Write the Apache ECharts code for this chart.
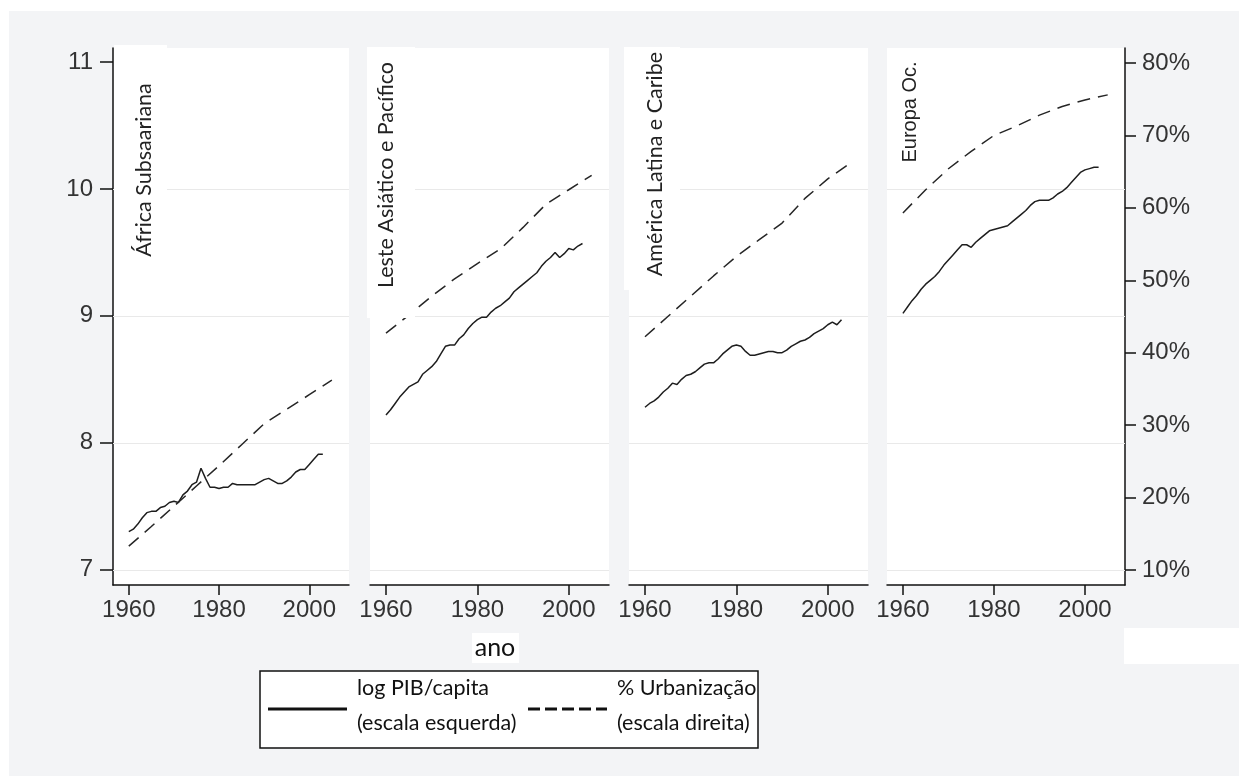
<!DOCTYPE html>
<html>

<head>
    <meta charset="utf-8">
    <title>PIB e urbanização</title>
    <script src="https://cdn.jsdelivr.net/npm/echarts@6/dist/echarts.min.js"></script>
</head>

<body style="margin:0;background:#fff;">
    <div id="main" style="width: 1239px;height:776px;"></div>
    <script type="text/javascript">
    // regiões (painéis)
    var regions = ['África Subsaariana', 'Leste Asiático e Pacífico', 'América Latina e Caribe', 'Europa Oc.'];

    // anos
    var gdpYears = [];
    for (var y = 1960; y <= 2003; y++) gdpYears.push(y);
    var urbYears = [1960, 1965, 1970, 1975, 1980, 1985, 1990, 1995, 2000, 2005];

    // log PIB/capita (escala esquerda), 1960-2003
    var gdpAfrica = [7.30, 7.32, 7.36, 7.41, 7.45, 7.46, 7.46, 7.49, 7.50, 7.53, 7.54, 7.53, 7.59, 7.62, 7.67,
        7.69, 7.80, 7.72, 7.65, 7.65, 7.64, 7.65, 7.65, 7.68, 7.67, 7.67, 7.67, 7.67, 7.67, 7.69, 7.71, 7.72,
        7.70, 7.68, 7.68, 7.70, 7.73, 7.77, 7.79, 7.79, 7.83, 7.87, 7.91, 7.91];
    var gdpAsia = [8.22, 8.26, 8.31, 8.36, 8.40, 8.44, 8.46, 8.48, 8.54, 8.57, 8.60, 8.64, 8.70, 8.76, 8.77,
        8.77, 8.82, 8.85, 8.90, 8.94, 8.97, 8.99, 8.99, 9.03, 9.06, 9.08, 9.11, 9.14, 9.19, 9.22, 9.25, 9.28,
        9.31, 9.34, 9.39, 9.43, 9.46, 9.50, 9.46, 9.49, 9.53, 9.52, 9.55, 9.57];
    var gdpLatam = [8.28, 8.31, 8.33, 8.36, 8.40, 8.43, 8.47, 8.46, 8.50, 8.53, 8.54, 8.56, 8.59, 8.62, 8.63,
        8.63, 8.66, 8.70, 8.73, 8.76, 8.77, 8.76, 8.72, 8.69, 8.69, 8.70, 8.71, 8.72, 8.72, 8.71, 8.71, 8.73,
        8.76, 8.78, 8.80, 8.81, 8.83, 8.86, 8.88, 8.90, 8.93, 8.95, 8.93, 8.97];
    var gdpEurope = [9.02, 9.07, 9.12, 9.16, 9.21, 9.25, 9.28, 9.31, 9.35, 9.40, 9.44, 9.48, 9.52, 9.56, 9.56,
        9.54, 9.58, 9.61, 9.64, 9.67, 9.68, 9.69, 9.70, 9.71, 9.74, 9.77, 9.80, 9.83, 9.87, 9.90, 9.91, 9.91,
        9.91, 9.93, 9.96, 9.98, 10.01, 10.05, 10.09, 10.13, 10.15, 10.16, 10.17, 10.17];

    // % urbanização (escala direita)
    var urbAfrica = [13.3, 16.0, 18.8, 21.6, 24.4, 27.3, 30.2, 32.2, 34.2, 36.2];
    var urbAsia = [42.7, 45.2, 47.8, 50.2, 52.3, 54.3, 57.3, 60.5, 62.5, 64.5];
    var urbLatam = [42.2, 45.0, 47.8, 50.6, 53.3, 55.6, 57.9, 61.3, 64.0, 66.2];
    var urbEurope = [59.3, 62.5, 65.4, 67.8, 70.0, 71.3, 72.8, 74.0, 74.9, 75.6];

    var gdpData = [gdpAfrica, gdpAsia, gdpLatam, gdpEurope];
    var urbData = [urbAfrica, urbAsia, urbLatam, urbEurope];

    var leftTicks = [7, 8, 9, 10, 11];
    var rightTicks = [10, 20, 30, 40, 50, 60, 70, 80];
    var yearTicks = [1960, 1980, 2000];

    var myChart = echarts.init(document.getElementById('main'));

    var panelLeft = [113, 370, 629, 887];
    var panelWidth = [236, 239, 239, 238];
    var labelFont = ['Lato', 'Lato', 'Lato', 'Liberation Sans'];
    var labelSize = [21.5, 21.5, 21.5, 20];
    var labelPos = [[144, 170], [386, 175], [655, 164], [910, 112]];
    var labelBox = [[114, 45, 53, 217], [367, 47, 48, 271], [624, 47, 56, 243]];

    var pair = function (xs, ys) {
        return xs.map(function (x, i) { return [x, ys[i]]; });
    };

    var grids = [], xAxes = [], yAxes = [], series = [];
    var tickFont = { fontFamily: 'Liberation Sans', fontSize: 24, color: '#333' };

    for (var i = 0; i < 4; i++) {
        grids.push({
            left: panelLeft[i], top: 48, width: panelWidth[i], height: 537,
            show: true, backgroundColor: '#fff', borderWidth: 0
        });
        xAxes.push({
            type: 'value', gridIndex: i, min: 1956.5, max: 2008.8,
            axisLine: { show: true, onZero: false, lineStyle: { color: '#111', width: 1.5 } },
            axisTick: { show: true, length: 10, customValues: yearTicks, lineStyle: { color: '#111', width: 1.5 } },
            axisLabel: Object.assign({
                customValues: yearTicks, margin: 13,
                formatter: function (v) { return String(v); }
            }, tickFont),
            splitLine: { show: false }
        });
        // escala esquerda
        yAxes.push({
            type: 'value', gridIndex: i, position: 'left', min: 6.88, max: 11.11,
            show: i === 0,
            axisLine: { show: true, lineStyle: { color: '#111', width: 1.5 } },
            axisTick: { show: true, length: 13, customValues: leftTicks, lineStyle: { color: '#111', width: 1.5 } },
            axisLabel: Object.assign({ customValues: leftTicks, margin: 20 }, tickFont),
            splitLine: { show: false }
        });
        // escala direita
        yAxes.push({
            type: 'value', gridIndex: i, position: 'right', min: 7.93, max: 82.07,
            show: i === 3,
            axisLine: { show: true, lineStyle: { color: '#111', width: 1.5 } },
            axisTick: { show: true, length: 11, customValues: rightTicks, lineStyle: { color: '#111', width: 1.5 } },
            axisLabel: Object.assign({ customValues: rightTicks, margin: 17, formatter: '{value}%' }, tickFont),
            splitLine: { show: false }
        });
        series.push({
            name: 'log PIB/capita', type: 'line', xAxisIndex: i, yAxisIndex: i * 2,
            data: pair(gdpYears, gdpData[i]), showSymbol: false, z: 3,
            lineStyle: { color: '#1e1e1e', width: 1.5 },
            markLine: {
                silent: true, symbol: 'none', label: { show: false }, z: 1,
                lineStyle: { color: '#e9e9e9', width: 1, type: 'solid' },
                data: [{ yAxis: 7 }, { yAxis: 8 }, { yAxis: 9 }, { yAxis: 10 }]
            }
        });
        series.push({
            name: '% Urbanização', type: 'line', xAxisIndex: i, yAxisIndex: i * 2 + 1,
            data: pair(urbYears, urbData[i]), showSymbol: false, z: 3,
            lineStyle: { color: '#262626', width: 1.5, type: [13, 8] }
        });
    }

    var legendFont = { fontFamily: 'Lato', fontSize: 21.5, fill: '#111', verticalAlign: 'middle' };
    var graphics = [
        { type: 'rect', z: -10, shape: { x: 9, y: 11, width: 1230, height: 765 }, style: { fill: '#f3f4f6' } },
        { type: 'rect', z: 50, shape: { x: 1124, y: 628, width: 115, height: 36 }, style: { fill: '#fff' } },
        // ano
        { type: 'rect', z: 50, shape: { x: 472, y: 633, width: 47, height: 30 }, style: { fill: '#fff' } },
        { type: 'text', z: 51, x: 495, y: 648, style: { text: 'ano', fontFamily: 'Lato', fontSize: 25, fill: '#111', align: 'center', verticalAlign: 'middle' } },
        // legenda
        { type: 'rect', z: 50, shape: { x: 260, y: 671, width: 498, height: 77 }, style: { fill: '#fff', stroke: '#111', lineWidth: 1.5 } },
        { type: 'line', z: 51, shape: { x1: 268, y1: 709, x2: 347, y2: 709 }, style: { stroke: '#111', lineWidth: 3 } },
        { type: 'line', z: 51, shape: { x1: 528, y1: 709, x2: 607, y2: 709 }, style: { stroke: '#111', lineWidth: 3, lineDash: [12, 5] } },
        { type: 'text', z: 51, x: 357, y: 688, style: Object.assign({ text: 'log PIB/capita' }, legendFont) },
        { type: 'text', z: 51, x: 357, y: 723, style: Object.assign({ text: '(escala esquerda)' }, legendFont) },
        { type: 'text', z: 51, x: 617, y: 688, style: Object.assign({ text: '% Urbanização' }, legendFont) },
        { type: 'text', z: 51, x: 617, y: 723, style: Object.assign({ text: '(escala direita)' }, legendFont) }
    ];
    labelBox.forEach(function (b) {
        graphics.push({ type: 'rect', z: 40, shape: { x: b[0], y: b[1], width: b[2], height: b[3] }, style: { fill: '#fff' } });
    });
    regions.forEach(function (name, i) {
        graphics.push({
            type: 'text', z: 41, x: labelPos[i][0], y: labelPos[i][1], rotation: Math.PI / 2,
            style: { text: name, fontFamily: labelFont[i], fontSize: labelSize[i], fill: '#222', align: 'center', verticalAlign: 'middle' }
        });
    });

    var option = {
        animation: false,
        grid: grids,
        xAxis: xAxes,
        yAxis: yAxes,
        series: series,
        graphic: graphics
    };

    myChart.setOption(option);
    </script>
</body>

</html>
